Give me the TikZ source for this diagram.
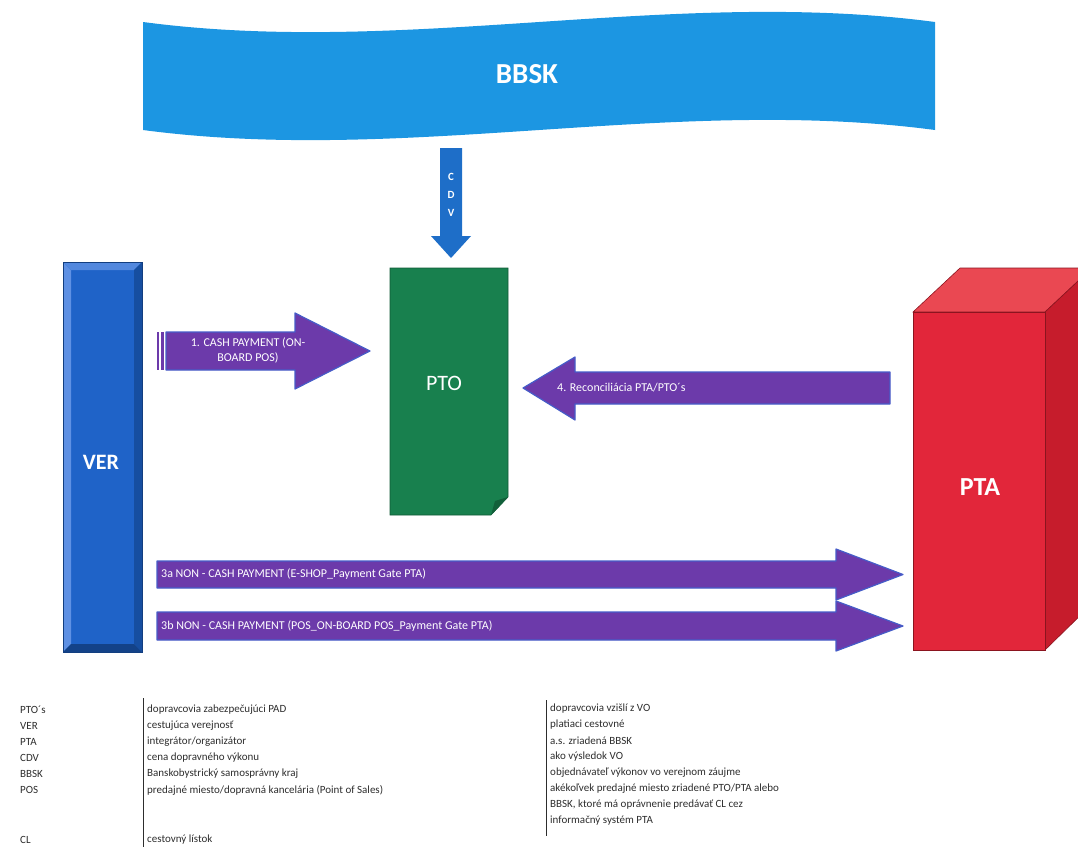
\documentclass[tikz,border=0pt]{standalone}
\usepackage{fontspec}
\setmainfont{Carlito}
\usepackage{tikz}
\usetikzlibrary{positioning}

\definecolor{bbskblue}{RGB}{28,150,226}
\definecolor{cdvblue}{RGB}{30,110,200}
\definecolor{verblue}{RGB}{31,99,200}
\definecolor{verlight}{RGB}{95,145,228}
\definecolor{verdark}{RGB}{22,78,160}
\definecolor{ptogreen}{RGB}{24,128,78}
\definecolor{ptared}{RGB}{226,38,58}
\definecolor{ptatop}{RGB}{234,72,82}
\definecolor{ptaside}{RGB}{198,28,44}
\definecolor{arrowpurple}{RGB}{108,58,170}
\definecolor{arrowedge}{RGB}{70,92,200}
\definecolor{legendgray}{RGB}{45,45,45}

\tikzset{
  flowarrow/.style={fill=arrowpurple, draw=arrowedge, line width=1.2pt, line join=round},
  arrowtext/.style={text=white, inner sep=0pt, font=\fontsize{12}{15}\selectfont},
  boxtext/.style={text=white, font=\fontsize{22}{26}\selectfont},
  leglabel/.style={anchor=west, inner sep=0pt, text=legendgray, font=\fontsize{11}{13}\selectfont},
}

\begin{document}
\begin{tikzpicture}[x=1pt,y=-1pt]
	\useasboundingbox (0,0) rectangle (1078,847);
	\clip (0,0) rectangle (1078,847);

	% BBSK banner
	\fill[bbskblue] (143,22) .. controls (407,57) and (671,-13) .. (935,22)
		-- (935,130) .. controls (671,95) and (407,165) .. (143,130) -- cycle;
	\node[boxtext, font=\fontsize{29}{33}\selectfont\bfseries] (bbsk) at (527,74) {BBSK};

	% CDV arrow
	\fill[cdvblue] (440,148) -- (462,148) -- (462,236) -- (471,236) -- (451,258) -- (431,236) -- (440,236) -- cycle;
	\node[text=white, font=\fontsize{11}{18}\selectfont\bfseries, align=center, inner sep=0pt] (cdv) at (451,195) {C\\D\\V};

	% VER
	\fill[verblue] (63,262) rectangle (142,652);
	\fill[verlight] (63,262) -- (71,270) -- (71,644) -- (63,652) -- cycle;
	\fill[verlight!80!verblue] (63,262) -- (142,262) -- (134,270) -- (71,270) -- cycle;
	\fill[verdark] (142,262) -- (142,652) -- (134,644) -- (134,270) -- cycle;
	\fill[verdark!85!black] (63,652) -- (71,644) -- (134,644) -- (142,652) -- cycle;
	\draw[verdark!80!black, line width=0.6pt] (63,262) rectangle (142,652);
	\node[boxtext, font=\fontsize{22}{26}\selectfont\bfseries] (ver) at (101,462) {VER};

	% PTO
	\filldraw[fill=ptogreen, draw=ptogreen!70!black, line width=0.6pt]
		(390,268) -- (508,268) -- (508,497) -- (491,515) -- (390,515) -- cycle;
	\fill[ptogreen!75!black] (508,497) -- (491,515) -- (495,501) -- cycle;
	\node[boxtext] (pto) at (444,383) {PTO};

	% PTA cube
	\filldraw[fill=ptatop, draw=ptaside!70!black, line width=0.6pt] (913,312) -- (960,268) -- (1092,268) -- (1045,312) -- cycle;
	\filldraw[fill=ptaside, draw=ptaside!70!black, line width=0.6pt] (1045,312) -- (1092,268) -- (1092,604) -- (1045,650) -- cycle;
	\filldraw[fill=ptared, draw=ptaside!70!black, line width=0.6pt] (913,312) rectangle (1045,650);
	\node[boxtext, font=\fontsize{26}{30}\selectfont\bfseries] (pta) at (980,487) {PTA};

	% 1. cash payment
	\fill[arrowpurple] (157,332) rectangle (159,370);
	\fill[arrowpurple] (161,332) rectangle (164,370);
	\draw[flowarrow] (166,332) -- (295,332) -- (295,313) -- (370,351) -- (295,389) -- (295,370) -- (166,370) -- cycle;
	\node[arrowtext, align=center] (cash) at (248,350) {1. CASH PAYMENT (ON-\\BOARD POS)};

	% 4. reconciliation
	\draw[flowarrow] (890,372) -- (575,372) -- (575,357) -- (523,388) -- (575,420) -- (575,404) -- (890,404) -- cycle;
	\node[arrowtext, anchor=west] (recon) at (557,388) {4. Reconciliácia PTA/PTO´s};

	% 3a / 3b non-cash payment
	\draw[flowarrow] (157,561) -- (836,561) -- (836,549) -- (903,574.5) -- (836,600) -- (836,588) -- (157,588) -- cycle;
	\node[arrowtext, anchor=west] (nona) at (161,574.5) {3a NON - CASH PAYMENT (E-SHOP\_Payment Gate PTA)};
	\draw[flowarrow] (157,612) -- (836,612) -- (836,601) -- (903,626) -- (836,651) -- (836,640) -- (157,640) -- cycle;
	\node[arrowtext, anchor=west] (nonb) at (161,626) {3b NON - CASH PAYMENT (POS\_ON-BOARD POS\_Payment Gate PTA)};

	% legend
	\draw[legendgray, line width=1pt] (143,698) -- (143,847);
	\draw[legendgray, line width=1pt] (546,700) -- (546,836);
	\node[leglabel] (lpto) at (20,710) {PTO´s};
	\node[leglabel] (lver) at (20,726) {VER};
	\node[leglabel] (lpta) at (20,742) {PTA};
	\node[leglabel] (lcdv) at (20,758) {CDV};
	\node[leglabel] (lbbsk) at (20,774) {BBSK};
	\node[leglabel] (lpos) at (20,790) {POS};
	\node[leglabel] (lcl) at (20,840) {CL};
	\node[leglabel] (dpto) at (147,710) {dopravcovia zabezpečujúci PAD};
	\node[leglabel] (dver) at (147,726) {cestujúca verejnosť};
	\node[leglabel] (dpta) at (147,742) {integrátor/organizátor};
	\node[leglabel] (dcdv) at (147,758) {cena dopravného výkonu};
	\node[leglabel] (dbbsk) at (147,774) {Banskobystrický samosprávny kraj};
	\node[leglabel] (dpos) at (147,790) {predajné miesto/dopravná kancelária (Point of Sales)};
	\node[leglabel] (dcl) at (147,840) {cestovný lístok};
	\node[leglabel] (rpto) at (550,709) {dopravcovia vzišlí z VO};
	\node[leglabel] (rver) at (550,725) {platiaci cestovné};
	\node[leglabel] (rpta) at (550,741) {a.s. zriadená BBSK};
	\node[leglabel] (rcdv) at (550,757) {ako výsledok VO};
	\node[leglabel] (rbbsk) at (550,773) {objednávateľ výkonov vo verejnom záujme};
	\node[leglabel] (rpos) at (550,789) {akékoľvek predajné miesto zriadené PTO/PTA alebo};
	\node[leglabel] (rposb) at (550,805) {BBSK, ktoré má oprávnenie predávať CL cez};
	\node[leglabel] (rposc) at (550,821) {informačný systém PTA};
\end{tikzpicture}
\end{document}
